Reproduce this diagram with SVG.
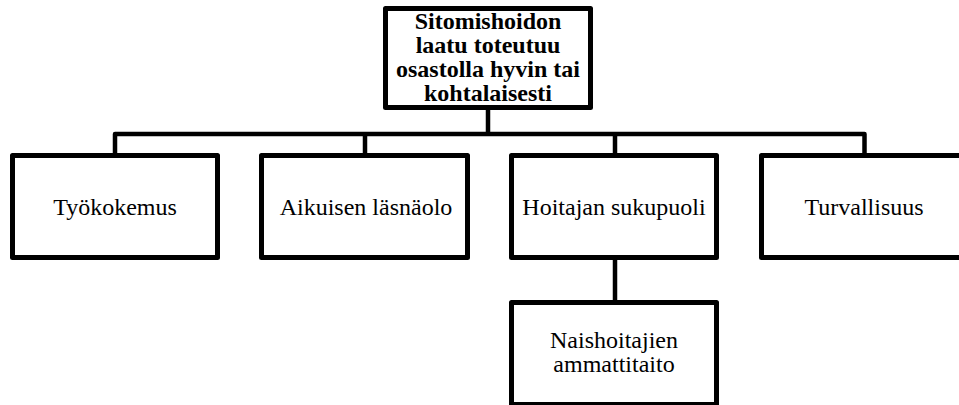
<svg xmlns="http://www.w3.org/2000/svg" width="959" height="405" viewBox="0 0 959 405">
<style>
.box{fill:#fff;stroke:#000;stroke-width:5;stroke-linejoin:round}
.con{fill:none;stroke:#000;stroke-width:4.5;stroke-linejoin:round}
text{font-family:'Liberation Serif','Times New Roman',Tinos,'DejaVu Serif',serif;font-size:24px;fill:#000;text-anchor:middle}
.b{font-weight:bold}
</style>
<rect width="959" height="405" fill="#fff"/>
<g id="connectors">
<path class="con" d="M488,107.5 V134"/>
<path class="con" d="M115,155.5 V134 H864.5 V155.5"/>
<path class="con" d="M365,134 V155.5"/>
<path class="con" d="M615,134 V155.5"/>
<path class="con" d="M615,257.5 V302.5"/>
</g>
<g id="root">
<rect class="box" x="385.5" y="8.5" width="205" height="99"/>
<text class="b" x="488" y="29">Sitomishoidon</text>
<text class="b" x="488" y="53">laatu toteutuu</text>
<text class="b" x="488" y="77">osastolla hyvin tai</text>
<text class="b" x="488" y="101">kohtalaisesti</text>
</g>
<g id="tyokokemus">
<rect class="box" x="12.5" y="155.5" width="205" height="102"/>
<text x="115" y="215">Työkokemus</text>
</g>
<g id="aikuisen">
<rect class="box" x="261.5" y="155.5" width="206" height="102"/>
<text x="366" y="215">Aikuisen läsnäolo</text>
</g>
<g id="hoitajan">
<rect class="box" x="511.5" y="155.5" width="205" height="102"/>
<text x="614" y="215">Hoitajan sukupuoli</text>
</g>
<g id="turvallisuus">
<rect class="box" x="761.5" y="155.5" width="205" height="102"/>
<text x="864" y="215">Turvallisuus</text>
</g>
<g id="naishoitajien">
<rect class="box" x="511.5" y="302.5" width="205" height="102"/>
<text x="614" y="348">Naishoitajien</text>
<text x="614" y="372">ammattitaito</text>
</g>
</svg>
